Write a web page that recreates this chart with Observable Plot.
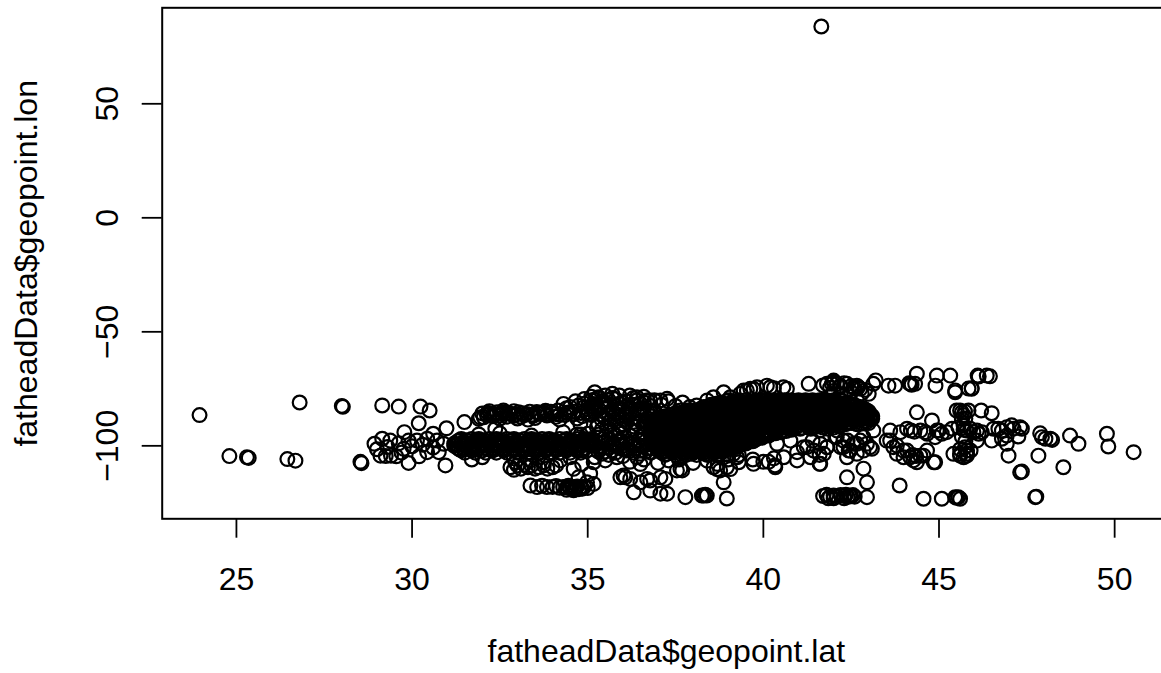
<!DOCTYPE html>
<html><head><meta charset="utf-8">
<script src="https://cdn.jsdelivr.net/npm/d3@7"></script>
<script src="https://cdn.jsdelivr.net/npm/@observablehq/plot@0.6"></script>
<style>
html,body{margin:0;padding:0;background:#fff;overflow:hidden;}
#chart{width:1161px;height:673px;overflow:hidden;}
#chart svg{max-width:none !important;}
</style></head><body><div id="chart"></div>
<script>
// Axis ticks and labels
const xTicks = [25, 30, 35, 40, 45, 50];
const yTicks = [-100, -50, 0, 50];
const xLabel = "fatheadData$geopoint.lat";
const yLabel = "fatheadData$geopoint.lon";

// Points as [lat, lon]
const outlierPoints = [[41.65, 83.9]];

const westPoints = [
[23.95,-86.5],[24.8,-104.5],[25.3,-105],[25.35,-105.3],[26.8,-81],[26.45,-105.8],[26.68,-106.5],
[28.0,-82.5],[28.03,-82.9],[28.53,-107],[28.56,-107.6],
[29.15,-82.3],[29.62,-82.8],[30.24,-82.8],[30.5,-84.5],[30.19,-90.1],[29.78,-94],
[28.93,-99.1],[29.15,-96.9],[29.38,-97.7],[29.62,-98.9],[29.9,-97.7],[30.14,-97.7],[30.43,-96.9],[30.71,-97.7],[30.6,-94.7],[30.9,-99.1],
[29.1,-104.3],[29.25,-104.5],[29.4,-104.3],[29.55,-104.6],[29.76,-101.3],[30.43,-102.8],[30.76,-102.8],
[29.9,-107.5],[30.95,-108.6],[30.98,-92.3],[31.49,-89.6],
[29.3,-100.5],[29.7,-103],[30.0,-100.2],[30.3,-99.5],[30.6,-100.8],[30.2,-104.6],[29.0,-101.5]
];

const gulfUpperPoints = [
[31.94,-87.5],[32.04,-87.5],[32.23,-86],[32.42,-85.3],[32.61,-85.3],[32.8,-86],[33.03,-85.3],[33.27,-86],[33.46,-86.7],[33.65,-86],[33.84,-86.7],[34.08,-86],[34.31,-81.6],[34.5,-85.3],[34.74,-82.3],[34.98,-85.3],[35.17,-81.6],[35.31,-78.7],[34.79,-90.4],[35.26,-91.8],[31.9,-88.2],[32.37,-92.5],
[32.13,-86.5],[32.3,-87],[32.5,-86.7],[32.7,-87.2],[32.9,-86.8],[33.1,-87.3],[33.35,-85],[33.55,-85.2],[33.75,-85.5],[33.95,-85],[34.15,-84.5],[34.35,-86.5],[34.6,-85],[34.85,-87],[35.0,-84],[34.2,-88.5],[33.3,-88.5],[32.6,-84.5],[34.65,-80.5],[34.9,-79.5],
[32.2,-84.8],[32.5,-88],[32.9,-84.8],[33.2,-86.5],[33.5,-87.8],[33.8,-84.6],[34.1,-87.3],[34.4,-83.5],[34.7,-88],[34.9,-83],[35.1,-86.5],[33.0,-88],[32.0,-85.8],
[32.15,-85.5],[32.35,-86.2],[32.55,-85.8],[32.75,-85.6],[32.95,-86.3],[33.15,-85.7],[33.4,-86.4],[33.6,-85.7],[33.8,-86.1],[34.0,-85.6],[34.2,-86.3],[34.4,-85.5],[34.6,-86.2],[34.8,-85.6],[35.0,-86.1],[34.9,-81.5],[35.1,-83],[34.5,-83],[35.2,-79.8]
];

const upperMidPoints = [
[35.2,-76.5],[35.5,-77.9],[35.7,-77.2],[35.9,-77.9],[36.2,-77.9],[36.4,-78.7],
[35.1,-80],[35.4,-82],[35.6,-80],[35.6,-83],[35.8,-79.5],[35.9,-81.5],[36.1,-80.5],[36.2,-83],[36.4,-80],[36.5,-81.5],[36.6,-78.5],[36.7,-80],[36.8,-82.5],
[35.2,-85],[35.4,-86.5],[35.7,-85],[35.9,-87],[36.1,-85.5],[36.3,-87.5],[36.5,-86],[36.7,-88],[36.9,-84.5],[37.1,-82],[37.3,-80.5],[37.5,-82.5],[37.7,-81],[37.9,-83],[38.1,-82.3],[38.4,-80.1],[38.58,-78.7],[38.87,-76.5],[39.06,-78.7],[39.34,-77.2],[39.53,-75.7],[39.72,-75],[39.44,-75.7],[39.63,-75],[39.82,-74.3],[40.1,-73.6],[40.2,-74.3],[40.57,-74.3],[40.67,-75],[37.07,-80.1],[37.26,-79.4],[36.78,-80.1],[37.64,-84.5],[37.83,-84.5],
[35.3,-90.4],[35.6,-89.6],[35.9,-91],[36.1,-89.5],[36.4,-90.5],[36.6,-92],[35.55,-91.8],[35.93,-94],
[35.3,-79],[35.5,-81],[35.8,-82.5],[36.0,-84],[36.3,-82],[36.6,-83.5],[36.9,-86],[35.2,-83],[35.5,-88],[35.8,-86],[36.1,-87.5],[36.4,-84.5],[36.7,-85],[36.3,-91.5],[36.0,-92.5],[36.7,-90],[35.4,-92.8],[35.7,-87.5],[36.5,-89],
[35.1,-78.5],[35.4,-80.5],[35.7,-79],[36.0,-81],[36.3,-79],[36.6,-81],[36.9,-80],[35.3,-84],[35.6,-86],[35.9,-84],[36.2,-86],[36.5,-84],[36.8,-87],[36.0,-88.5],[36.3,-89.5],[36.6,-90.5],[35.8,-89.5],[35.4,-88.5]
];

// Dense rows: [lon, [latitudes read along that row]]
const plainsRows = [
[-97, [31.4,31.7,31.9,32.2,32.4,32.7,32.9,33.2,33.4,33.7,33.9,34.2,34.4,34.7,34.9]],
[-97.5, [31.35,31.55,31.85,32.05,32.35,32.55,32.85,33.05,33.35,33.55,33.85,34.05,34.35,34.55,34.85,35.05]],
[-98, [31.3,31.6,31.9,32.2,32.5,32.8,33.1,33.4,33.7,34.0,34.3,34.6,34.9]],
[-99, [31.2,31.4,31.6,31.8,32.0,32.2,32.4,32.6,32.8,33.0,33.2,33.4,33.6,33.8,34.0,34.2,34.4,34.6,34.8,35.0]],
[-99.5, [31.25,31.45,31.75,31.95,32.25,32.45,32.75,32.95,33.25,33.45,33.75,33.95,34.25,34.45,34.75,34.95]],
[-100, [31.2,31.5,31.8,32.1,32.4,32.7,33.0,33.3,33.6,33.9,34.2,34.5,34.8,35.1]],
[-101, [31.3,31.5,31.7,31.9,32.1,32.3,32.5,32.7,32.9,33.1,33.3,33.5,33.7,33.9,34.1,34.3,34.5,34.7,34.9]],
[-101.5, [31.35,31.65,31.85,32.15,32.35,32.65,32.85,33.15,33.35,33.65,33.85,34.15,34.35,34.65,34.85]],
[-102, [31.4,31.7,32.0,32.3,32.6,32.9,33.2,33.5,33.8,34.1,34.4,34.7]],
[-103, [31.5,31.8,32.1,32.4,32.7,33.0,33.3,33.6,33.9,34.2,34.5,34.8]]
];

const plainsExtraPoints = [
[31.9,-95],[32.5,-94.5],[33.4,-95.5],[34.3,-94],[34.8,-95],[32.0,-105],[32.9,-105.5],[33.6,-104.8],[34.5,-105],[31.7,-106],[34.7,-95],[35.3,-95],
[35.1,-97],[35.2,-100],[35.3,-102.5],[35.4,-98.5],[35.5,-96],[35.6,-101],[35.7,-99],[35.8,-103],[35.9,-97.5],[36.0,-100],[36.1,-102],[36.2,-95.5],[36.3,-98.5],[36.4,-101],[36.5,-103.5],[36.6,-97],[36.7,-99.5],[36.8,-95],[35.2,-105],[35.5,-106.4],[35.83,-105],[36.2,-107],[36.6,-106],[35.0,-94.7],[35.7,-94],[36.4,-93.5],[36.21,-102.1],[36.5,-99.9],[35.93,-97.7],
[35.1,-99],[35.3,-100.5],[35.5,-98],[35.7,-102],[35.9,-99.5],[36.1,-98],[36.3,-100],[36.5,-102],[36.7,-101],[35.4,-103.5],[35.6,-104],[36.0,-104.5],[36.4,-105],[36.8,-103],[36.9,-97],[35.3,-96.5],[35.8,-95.5],[36.6,-95],
[35.15,-98],[35.35,-101.5],[35.6,-97],[35.75,-100],[36.0,-101.5],[36.2,-99],[36.45,-97.5],[36.65,-102.5],[36.85,-99],[35.5,-102.5],[36.0,-96.5],[36.3,-103]
];

const southwestPoints = [
[32.8,-109.4],[33.0,-108.6],[33.1,-110],[33.3,-109.4],[33.4,-108.6],[33.5,-110],[33.6,-109.4],[33.75,-108.6],[33.85,-110],[34.0,-109.4],[34.1,-108.6],[32.9,-110.5],[33.2,-108.3],
[32.94,-107.2],[33.37,-106.4],[33.75,-107.2],[34.22,-106.4],[34.6,-110.1],[34.84,-107.9],[35.17,-107.2],[34.74,-113.8],[35.07,-112.2],
[33.37,-117.4],[33.56,-118.1],[33.7,-117.5],[33.84,-118.1],[34.0,-118],[34.1,-117.6],[34.2,-118.4],[34.3,-118],[34.4,-118.3],[34.45,-117.5],[34.5,-118.6],[34.55,-118.1],[34.6,-118.9],[34.65,-118.3],[34.7,-117.8],[34.75,-119.0],[34.8,-118.4],[34.85,-118.8],[34.9,-117.9],[35.0,-118.5],[34.6,-119.5],[34.4,-119.3],[34.98,-116]
];

const southScatterPoints = [
[35.17,-116.7],[36.02,-113],[36.31,-120.4],[36.69,-114.5],[37.21,-114.5],[37.07,-121],[37.26,-121],[37.78,-122.5],[38.25,-121.8],[38.3,-121.8],[38.39,-121.8],[38.35,-121.5],[38.96,-123.1],[37.64,-110.2],[38.68,-110.2],[39.06,-110.2],[38.87,-116],[39.72,-107.9],[40.33,-108.6],[36.78,-119.6],[36.07,-113.8],[35.93,-113.8],[36.21,-114.5],[36.5,-116],[36.78,-115.2],[37.07,-113.8],[37.54,-110.8],[37.69,-110.8],[38.58,-109.4],[38.77,-110.8],[38.96,-109.4],[39.25,-105],[40.34,-109.4],[40.96,-102.8],[41.24,-100.6],[41.62,-107.9],[41.81,-100.6],[42.05,-96.2],
[36.5,-108],[37.0,-107.5],[37.3,-106.4],[37.6,-106],[38.0,-107.5],[38.4,-106.5],[38.7,-108],[39.0,-106],[39.3,-107.2],[39.7,-106],[40.0,-107],[40.3,-105.5],[40.15,-107],
[40.39,-99.1],[40.77,-97.7],[41.15,-100.6],[41.43,-102.1],[41.62,-99.1],[42.09,-96.2],[42.28,-100.6],[42.47,-102.1],[42.66,-99.1],[42.85,-102.1],[43.04,-100.6],[40.58,-105],[40.96,-106.4],[41.34,-105],[41.72,-103.5],[42.38,-105],[42.66,-103.5]
];

const mainBlobRows = [
[-80, [39.0,39.3,39.5,39.8,40.0,40.2,40.4,40.6,40.8,41.0,41.2,41.4,41.6,41.8,42.0,42.2]],
[-80.5, [38.95,39.15,39.35,39.65,39.85,40.05,40.25,40.45,40.65,40.85,41.05,41.25,41.45,41.65,41.85,42.05,42.25]],
[-81, [38.8,39.1,39.4,39.7,39.9,40.1,40.3,40.5,40.7,40.9,41.1,41.3,41.5,41.7,41.9,42.1,42.4]],
[-81.5, [38.65,38.85,39.05,39.25,39.55,39.75,39.95,40.15,40.35,40.55,40.75,40.95,41.15,41.35,41.55,41.75,41.95,42.25,42.45]],
[-82, [38.5,38.7,38.9,39.1,39.3,39.4,39.6,39.8,40.0,40.1,40.3,40.5,40.7,40.9,41.0,41.2,41.4,41.6,41.7,41.9,42.1,42.3,42.5]],
[-82.5, [38.45,38.65,38.85,39.05,39.25,39.45,39.65,39.85,40.05,40.25,40.45,40.65,40.85,41.05,41.25,41.45,41.65,41.85,42.05,42.35,42.55]],
[-83, [38.3,38.6,38.9,39.2,39.5,39.8,40.1,40.3,40.6,40.8,41.1,41.3,41.6,41.9,42.2,42.5,42.7]],
[-83.5, [38.25,38.45,38.75,38.95,39.15,39.35,39.65,39.85,40.05,40.25,40.45,40.75,40.95,41.15,41.45,41.65,41.85,42.05,42.35,42.65,42.85]],
[-84, [38.2,38.4,38.6,38.8,39.0,39.1,39.3,39.5,39.7,39.9,40.0,40.2,40.4,40.6,40.8,40.9,41.1,41.3,41.5,41.7,41.8,42.0,42.2,42.4,42.6,42.8]],
[-84.5, [37.95,38.15,38.35,38.55,38.85,39.05,39.25,39.45,39.65,39.85,40.15,40.35,40.55,40.75,40.95,41.15,41.45,41.65,41.85,42.15,42.35,42.55,42.75,42.95]],
[-85, [37.8,38.1,38.4,38.7,38.9,39.2,39.5,39.8,40.1,40.4,40.7,41.0,41.3,41.6,41.9,42.2,42.5,42.8,43.0]],
[-85.5, [37.65,37.85,38.05,38.25,38.55,38.75,38.95,39.15,39.35,39.55,39.85,40.05,40.25,40.45,40.65,40.95,41.15,41.35,41.55,41.85,42.05,42.25,42.45,42.75,42.95]],
[-86, [37.5,37.7,37.9,38.1,38.3,38.5,38.7,38.8,39.0,39.2,39.4,39.6,39.7,39.9,40.1,40.3,40.5,40.6,40.8,41.0,41.2,41.4,41.5,41.7,41.9,42.1,42.3,42.4,42.6,42.8,43.0]],
[-86.5, [37.35,37.55,37.75,37.95,38.25,38.45,38.65,38.85,39.05,39.25,39.55,39.75,39.95,40.15,40.35,40.65,40.85,41.05,41.25,41.55,41.75,41.95,42.15,42.45,42.65,42.85,43.05]],
[-87, [37.2,37.5,37.8,38.1,38.4,38.7,39.0,39.3,39.6,39.9,40.2,40.5,40.8,41.1,41.4,41.7,42.0,42.3,42.6,42.9,43.1]],
[-87.5, [37.05,37.25,37.45,37.65,37.95,38.15,38.35,38.55,38.85,39.05,39.25,39.45,39.75,39.95,40.15,40.35,40.65,40.85,41.05,41.25,41.55,41.75,41.95,42.15,42.45,42.65,42.85,43.05]],
[-88, [37.0,37.2,37.4,37.6,37.8,38.0,38.2,38.3,38.5,38.7,38.9,39.1,39.2,39.4,39.6,39.8,40.0,40.1,40.3,40.5,40.7,40.9,41.0,41.2,41.4,41.6,41.8,41.9,42.1,42.3,42.5,42.7,42.9,43.1]],
[-88.5, [36.95,37.15,37.35,37.65,37.85,38.05,38.25,38.55,38.75,38.95,39.15,39.45,39.65,39.85,40.05,40.35,40.55,40.75,40.95,41.25,41.45,41.65,41.85,42.15,42.35,42.55,42.75,43.05]],
[-89, [36.9,37.2,37.5,37.8,38.1,38.4,38.7,39.0,39.3,39.6,39.9,40.2,40.5,40.8,41.1,41.4,41.7,42.0,42.3,42.6,42.9]],
[-89.5, [36.85,37.05,37.25,37.45,37.75,37.95,38.15,38.35,38.65,38.85,39.05,39.25,39.55,39.75,39.95,40.15,40.45,40.65,40.85,41.05,41.35,41.55,41.75,41.95,42.25,42.45,42.65,42.95]],
[-90, [36.9,37.1,37.3,37.5,37.7,37.9,38.1,38.2,38.4,38.6,38.8,39.0,39.1,39.3,39.5,39.7,39.9,40.0,40.2,40.4,40.6,40.8,40.9,41.1,41.3,41.5,41.7,41.8,42.0,42.2,42.5,42.8,43.0]],
[-90.5, [36.85,37.05,37.25,37.55,37.75,37.95,38.15,38.45,38.65,38.85,39.05,39.35,39.55,39.75,39.95,40.25,40.45,40.65,40.85,41.15,41.35,41.55,41.75,42.05,42.35,42.65]],
[-91, [36.8,37.0,37.4,37.7,38.0,38.3,38.6,38.9,39.2,39.5,39.8,40.1,40.4,40.7,41.0,41.3,41.6,41.9,42.2]],
[-91.5, [36.85,37.05,37.25,37.55,37.75,37.95,38.15,38.45,38.65,38.85,39.05,39.35,39.55,39.75,39.95,40.25,40.45,40.65,40.95,41.25,41.55,41.85,42.15]],
[-92, [36.9,37.1,37.3,37.5,37.7,37.9,38.0,38.2,38.4,38.6,38.8,38.9,39.1,39.3,39.5,39.7,39.8,40.0,40.2,40.4,40.6,40.7,40.9,41.1,41.4,41.7,42.0]],
[-92.5, [36.85,37.05,37.25,37.55,37.75,37.95,38.15,38.45,38.65,38.85,39.05,39.35,39.55,39.75,39.95,40.25,40.45,40.75,41.05,41.35]],
[-93, [36.8,37.1,37.4,37.7,38.0,38.3,38.6,38.9,39.2,39.5,39.8,40.1,40.4,40.8]],
[-93.5, [36.85,37.05,37.35,37.55,37.75,38.05,38.25,38.45,38.75,38.95,39.15,39.45,39.65,39.85,40.15,40.35,40.65]],
[-94, [36.9,37.1,37.3,37.5,37.6,37.8,38.0,38.2,38.4,38.5,38.7,38.9,39.1,39.3,39.4,39.6,39.8,40.0,40.2,40.3,40.5]],
[-94.5, [36.85,37.05,37.35,37.55,37.75,38.05,38.25,38.45,38.75,38.95,39.15,39.45,39.65,39.85,40.15,40.35]],
[-95, [36.8,37.1,37.4,37.7,38.0,38.3,38.6,38.9,39.2,39.5,39.8,40.2]],
[-95.5, [36.85,37.05,37.35,37.55,37.75,38.05,38.25,38.45,38.75,38.95,39.15,39.45,39.65,39.95,40.15]],
[-96, [36.9,37.1,37.2,37.4,37.6,37.8,38.0,38.1,38.3,38.5,38.7,38.9,39.0,39.2,39.4,39.6,39.8,40.0]],
[-96.5, [36.85,37.05,37.35,37.55,37.85,38.05,38.25,38.55,38.75,38.95,39.25,39.45,39.75,39.95]],
[-97, [36.8,37.1,37.4,37.7,38.0,38.3,38.6,38.9,39.2,39.5,39.8]],
[-97.5, [36.85,37.05,37.35,37.55,37.85,38.05,38.25,38.55,38.75,39.05,39.25,39.55,39.75]],
[-98, [36.9,37.1,37.3,37.5,37.7,37.8,38.0,38.2,38.4,38.6,38.7,38.9,39.1,39.3,39.5,39.7]],
[-98.5, [36.85,37.15,37.35,37.65,37.85,38.15,38.35,38.65,38.85,39.15,39.35,39.55]],
[-99, [36.9,37.2,37.5,37.8,38.1,38.4,38.7,39.0,39.3,39.5]],
[-99.5, [36.85,37.15,37.35,37.65,37.85,38.15,38.35,38.65,38.85,39.15,39.35]],
[-100, [36.9,37.1,37.3,37.5,37.6,37.8,38.0,38.2,38.4,38.5,38.7,38.9,39.1,39.3]],
[-100.5, [36.95,37.25,37.45,37.75,37.95,38.25,38.45,38.75,38.95,39.25]],
[-101, [37.0,37.3,37.6,37.9,38.2,38.5,38.8,39.1]],
[-101.5, [37.05,37.35,37.55,37.85,38.15,38.35,38.65,38.95]],
[-102, [37.0,37.2,37.4,37.6,37.8,38.0,38.2,38.3,38.5,38.7,38.9]],
[-102.5, [37.15,37.45,37.75,38.05,38.35,38.65,38.85]],
[-103, [37.1,37.4,37.7,38.0,38.3,38.6]],
[-103.5, [37.25,37.65,37.95,38.35,38.75,39.15]],
[-104, [37.2,37.5,37.8,38.1,38.4,38.7,39.0,39.3]]
];

const northeastPoints = [
[41.29,-72.8],[41.81,-72.8],[42.09,-72.8],[42.38,-72.8],[42.66,-73.6],[43.13,-72.8],[43.56,-73.6],[43.75,-73.6],[44.18,-72.8],[44.22,-73.2],[44.15,-72.5],[44.32,-72.8],[44.37,-68.4],[44.94,-69.2],[45.32,-69.2],[45.46,-75.7],[45.84,-74.9],[40.3,-74.7],[41.7,-73.5],[41.9,-74.5],[42.0,-72],[42.2,-74],[42.3,-72.5],[42.5,-73.8],[42.6,-75],[42.7,-74.2],[42.5,-76.5],[42.2,-77.5],[42.8,-77],[42.0,-76],[42.9,-75.5],[43.2,-71.3],[43.0,-77.2],[41.95,-72.8],[42.19,-73.6],[42.57,-74.3],[42.76,-75],[42.0,-71.4],[44.9,-73.6],[45.46,-76.5],[45.93,-75],[46.1,-69.2],[46.36,-69.2],[46.45,-69.5],[46.13,-69.6],[45.93,-74.7]
];

const northScatterPoints = [
[44.37,-85.3],[44.8,-88.9],[45.5,-84.5],[45.65,-85.3],[45.6,-84.5],[45.74,-85],[45.84,-84.5],[46.2,-84.5],[46.5,-85.7],[45.7,-86.5],[45.75,-88],
[43.61,-93.3],[43.9,-94],[44.09,-92.5],[44.47,-93.3],[44.61,-94],[44.94,-93.3],[45.08,-94.7],[45.37,-92.5],[45.55,-91.8],[45.7,-91.1],[45.89,-92.5],[46.08,-93.3],[46.22,-94],[46.55,-92.5],[46.79,-93.3],[46.93,-91.8],[47.12,-92.5],[47.31,-91.8],
[43.61,-97.7],[43.8,-99.9],[43.99,-102.1],[44.18,-105],[44.37,-107.2],[44.56,-104.3],[44.89,-107.2],[45.41,-103.5],[45.6,-104.3],[45.79,-104.3],[45.74,-100.6],[46.08,-97.7],[46.5,-97.7],[46.79,-96.9],[46.98,-104.3],[47.31,-111.6],[47.83,-104.3],[47.93,-96.2],[48.17,-96.9],[48.54,-109.4],[48.73,-95.5],[48.97,-99.1],[49.78,-94.7],[49.82,-100.3],[50.54,-102.8],
[45.79,-93.3],[45.98,-94],[46.13,-94.7],[46.69,-92.5],[46.93,-95.5],[47.07,-91],[47.36,-92.5],[47.26,-95.9],[46.93,-99.1],[47.88,-94.5],[48.03,-96.9],[48.22,-97.4],
[41.81,-100.6],[42.28,-97.7],[42.43,-102.1],[42.57,-99.1],[42.76,-97.7],[42.95,-99.1],[43.09,-101.3],[42.85,-96.2],[43.13,-93.3],[43.51,-97.7],[43.7,-100.6],[43.8,-103.5],[43.99,-105],[44.09,-102.1],[44.27,-106.4],[44.47,-104.3],[44.66,-102.1],[44.85,-107.2],[44.66,-94.7],[44.89,-96.2],[44.99,-93.3],[45.22,-94],[45.6,-103.5],[45.8,-103.5],[45.9,-102.1],
[41.4,-97.7],[41.6,-93.3],[41.84,-92.5],[42.1,-93.3],[42.2,-100.6],[42.4,-97.7],
[44.2,-93.3],[44.3,-93.8],[44.25,-104],[44.35,-104.5],
[45.65,-88.2],[45.7,-93],[45.65,-96],[45.75,-98],[45.6,-101.5],[45.7,-105],[45.8,-102]
];

const pacificPoints = [
[41.6,-107.9],[42.85,-110],[42.38,-113.8],[42.95,-116],[42.95,-122.5],[43.88,-117.4],[44.56,-123.2],[45.08,-123.2],[45.46,-122.5],[45.5,-122.8],[45.55,-122.5],[45.6,-123.2],[47.74,-122.5],[47.77,-122.3],[47.36,-111.3],[41.6,-104],
[41.7,-122],[41.8,-121.5],[41.9,-122.3],[42.0,-121.8],[42.1,-122.2],[42.2,-121.6],[42.3,-122],[42.35,-121.5],[42.4,-122.4],[42.45,-121.9],[42.5,-122.1],[42.55,-121.6],[42.6,-122.3],[42.0,-123],[42.3,-123],[41.85,-123]
];

// Build table
function fromRows(rows) {
  const out = [];
  for (const [lon, lats] of rows) for (const lat of lats) out.push([lat, lon]);
  return out;
}
const points = [
  ...outlierPoints, ...westPoints, ...gulfUpperPoints, ...upperMidPoints,
  ...fromRows(plainsRows), ...plainsExtraPoints, ...southwestPoints,
  ...southScatterPoints, ...fromRows(mainBlobRows), ...northeastPoints,
  ...northScatterPoints, ...pacificPoints
].map(([lat, lon]) => ({lat, lon}));

const fmt = d => d < 0 ? "\u2212" + Math.abs(d) : String(d);
const FONT = "'Liberation Sans', Arial, Helvetica, sans-serif";

const chart = Plot.plot({
  width: 1180,
  height: 673,
  marginLeft: 161.7,
  marginRight: 10,
  marginTop: 7.3,
  marginBottom: 154.7,
  style: {fontFamily: FONT, fontSize: "32px", background: "#fff", color: "#000", maxWidth: "none"},
  x: {domain: [22.887, 51.59], axis: null},
  y: {domain: [-132, 92.1], axis: null},
  marks: [
    Plot.dot(points, {x: "lat", y: "lon", r: 6.9, stroke: "#000", fill: "none", strokeWidth: 2.2}),
    Plot.frame({stroke: "#000", strokeWidth: 2}),
    Plot.axisX(xTicks, {anchor: "bottom", tickSize: 19.4, tickPadding: 28.6, fontSize: 32, tickFormat: fmt, strokeWidth: 1.8, label: null}),
    Plot.axisY(yTicks, {anchor: "left", tickSize: 20, tickFormat: () => "", strokeWidth: 1.8, label: null}),
    Plot.text(yTicks, {y: d => d, text: fmt, frameAnchor: "left", dx: -44.4, rotate: -90, textAnchor: "middle", lineAnchor: "bottom", fontSize: 32, fill: "#000"}),
    Plot.text([yLabel], {text: d => d, frameAnchor: "left", dx: -(161.7 - 36), rotate: -90, textAnchor: "middle", lineAnchor: "bottom", fontSize: 32, fill: "#000"}),
    Plot.text([xLabel], {text: d => d, frameAnchor: "bottom", dy: 142.7, textAnchor: "middle", lineAnchor: "bottom", fontSize: 32, fill: "#000"})
  ]
});
document.getElementById("chart").appendChild(chart);
</script>
</body></html>
